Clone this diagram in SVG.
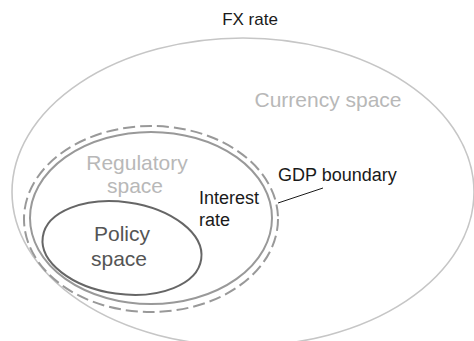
<svg xmlns="http://www.w3.org/2000/svg" width="474" height="341" viewBox="0 0 474 341">
<style>
text{font-family:"Liberation Sans",Arial,sans-serif}
.blk{fill:#1a1a1a;font-size:18px}
.lt{fill:#b8b8b8;font-size:21px}
.pol{fill:#555;font-size:21px}
</style>
<rect width="474" height="341" fill="#fff"/>
<g id="currency">
<ellipse cx="243" cy="192" rx="231" ry="154" fill="none" stroke="#c6c6c6" stroke-width="1.6"/>
<text class="lt" x="328" y="107" text-anchor="middle">Currency space</text>
</g>
<g id="fx">
<text class="blk" x="250" y="25" text-anchor="middle" style="font-size:17px">FX rate</text>
</g>
<g id="gdp">
<ellipse cx="151" cy="219" rx="127" ry="93" fill="none" stroke="#999" stroke-width="2" stroke-dasharray="12 5"/>
<text class="blk" x="278" y="181">GDP boundary</text>
</g>
<g id="regulatory">
<ellipse cx="151" cy="218" rx="121" ry="86" fill="none" stroke="#999" stroke-width="2"/>
<text class="lt" x="137" y="170" text-anchor="middle">Regulatory</text>
<text class="lt" x="135" y="193" text-anchor="middle">space</text>
</g>
<g id="interest">
<text class="blk" x="199" y="204">Interest</text>
<text class="blk" x="199" y="226">rate</text>
</g>
<g id="policy">
<ellipse cx="122" cy="248" rx="80" ry="46" transform="rotate(8 122 248)" fill="none" stroke="#666" stroke-width="2"/>
<text class="pol" x="122" y="241" text-anchor="middle">Policy</text>
<text class="pol" x="119" y="266" text-anchor="middle">space</text>
</g>
<g id="connectors">
<line x1="278" y1="203" x2="323" y2="188" stroke="#1a1a1a" stroke-width="1"/>
</g>
</svg>
